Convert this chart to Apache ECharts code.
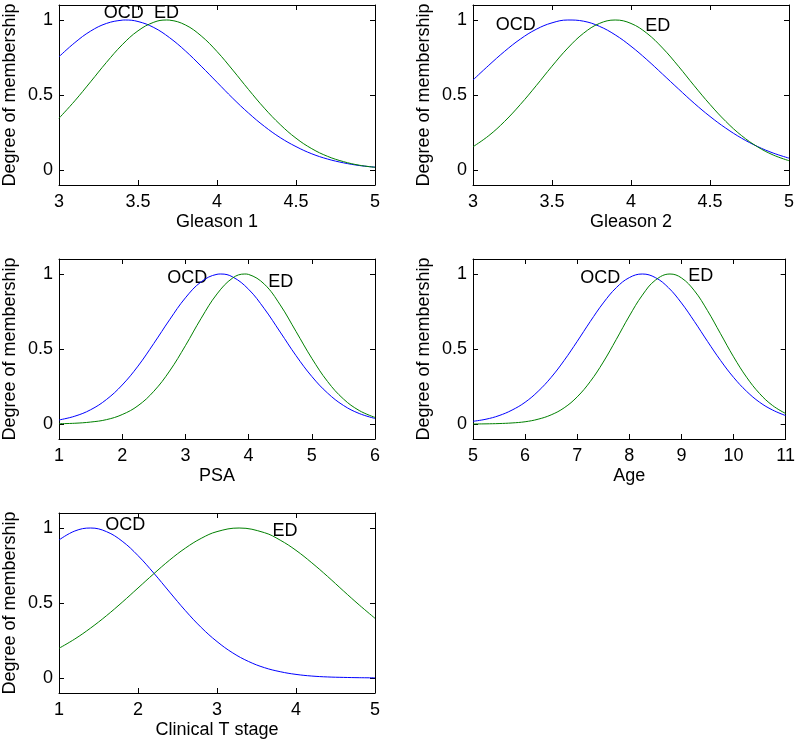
<!DOCTYPE html>
<html>
<head>
<meta charset="utf-8">
<title>Degree of membership</title>
<script src="https://cdn.jsdelivr.net/npm/echarts@6/dist/echarts.min.js"></script>
<style>
html, body { margin: 0; padding: 0; background: #fff; }
#main { width: 798px; height: 745px; }
</style>
</head>
<body>
<div id="main"></div>
<script>
// values, one pair of curves per panel
var gleason1X = [3.0, 3.1, 3.2, 3.3, 3.4, 3.42, 3.5, 3.6, 3.7, 3.8, 3.9, 4.0, 4.1, 4.2, 4.3, 4.4, 4.5, 4.6, 4.7, 4.8, 4.9, 5.0];
var gleason1Ocd = [0.755, 0.849, 0.926, 0.977, 0.999, 1.000, 0.990, 0.950, 0.882, 0.794, 0.692, 0.585, 0.478, 0.379, 0.291, 0.216, 0.156, 0.108, 0.073, 0.048, 0.030, 0.019];
var gleason1EdX = [3.0, 3.1, 3.2, 3.3, 3.4, 3.5, 3.6, 3.68, 3.7, 3.8, 3.9, 4.0, 4.1, 4.2, 4.3, 4.4, 4.5, 4.6, 4.7, 4.8, 4.9, 5.0];
var gleason1Ed = [0.345, 0.461, 0.588, 0.717, 0.835, 0.928, 0.985, 1.000, 0.999, 0.967, 0.894, 0.790, 0.666, 0.536, 0.412, 0.303, 0.212, 0.142, 0.091, 0.056, 0.032, 0.018];

var gleason2X = [3.0, 3.1, 3.2, 3.3, 3.4, 3.5, 3.6, 3.7, 3.8, 3.9, 4.0, 4.1, 4.2, 4.3, 4.4, 4.5, 4.6, 4.7, 4.8, 4.9, 5.0];
var gleason2Ocd = [0.600, 0.698, 0.791, 0.873, 0.938, 0.981, 1.000, 0.992, 0.958, 0.901, 0.825, 0.736, 0.639, 0.541, 0.445, 0.357, 0.279, 0.212, 0.157, 0.113, 0.079];
var gleason2Ed = [0.155, 0.229, 0.324, 0.437, 0.562, 0.692, 0.813, 0.912, 0.977, 1.000, 0.977, 0.912, 0.813, 0.692, 0.562, 0.437, 0.324, 0.229, 0.155, 0.100, 0.062];

var psaOcdX = [1.0, 1.25, 1.5, 1.75, 2.0, 2.25, 2.5, 2.75, 3.0, 3.25, 3.5, 3.56, 3.75, 4.0, 4.25, 4.5, 4.75, 5.0, 5.25, 5.5, 5.75, 6.0];
var psaOcd = [0.027, 0.052, 0.095, 0.163, 0.260, 0.386, 0.537, 0.695, 0.841, 0.948, 0.998, 1.000, 0.980, 0.898, 0.768, 0.613, 0.456, 0.317, 0.206, 0.124, 0.070, 0.037];
var psaEdX = [1.0, 1.25, 1.5, 1.75, 2.0, 2.25, 2.5, 2.75, 3.0, 3.25, 3.5, 3.75, 3.94, 4.0, 4.25, 4.5, 4.75, 5.0, 5.25, 5.5, 5.75, 6.0];
var psaEd = [0.002, 0.005, 0.013, 0.029, 0.063, 0.122, 0.218, 0.353, 0.522, 0.705, 0.867, 0.974, 1.000, 0.997, 0.932, 0.794, 0.617, 0.438, 0.283, 0.167, 0.090, 0.044];

var ageOcdX = [5.0, 5.25, 5.5, 5.75, 6.0, 6.25, 6.5, 6.75, 7.0, 7.25, 7.5, 7.75, 8.0, 8.25, 8.5, 8.75, 9.0, 9.25, 9.5, 9.75, 10.0, 10.25, 10.5, 10.75, 11.0];
var ageOcd = [0.018, 0.032, 0.056, 0.093, 0.145, 0.218, 0.311, 0.424, 0.551, 0.683, 0.807, 0.909, 0.976, 1.000, 0.976, 0.909, 0.807, 0.683, 0.551, 0.424, 0.311, 0.218, 0.145, 0.093, 0.056];
var ageEdX = [5.0, 5.25, 5.5, 5.75, 6.0, 6.25, 6.5, 6.75, 7.0, 7.25, 7.5, 7.75, 8.0, 8.25, 8.5, 8.78, 9.0, 9.25, 9.5, 9.75, 10.0, 10.25, 10.5, 10.75, 11.0];
var ageEd = [0.000, 0.001, 0.003, 0.007, 0.015, 0.032, 0.061, 0.108, 0.181, 0.283, 0.413, 0.564, 0.720, 0.859, 0.959, 1.000, 0.974, 0.888, 0.756, 0.602, 0.448, 0.312, 0.203, 0.123, 0.070];

var stageOcdX = [1.0, 1.2, 1.4, 1.6, 1.8, 2.0, 2.2, 2.4, 2.6, 2.8, 3.0, 3.2, 3.4, 3.6, 3.8, 4.0, 4.2, 4.4, 4.6, 4.8, 5.0];
var stageOcd = [0.920, 0.980, 1.000, 0.976, 0.912, 0.816, 0.699, 0.573, 0.449, 0.337, 0.243, 0.167, 0.110, 0.069, 0.042, 0.024, 0.013, 0.007, 0.004, 0.002, 0.001];
var stageEdX = [1.0, 1.2, 1.4, 1.6, 1.8, 2.0, 2.2, 2.4, 2.6, 2.8, 3.0, 3.28, 3.6, 3.8, 4.0, 4.2, 4.4, 4.6, 4.8, 5.0];
var stageEd = [0.198, 0.260, 0.333, 0.415, 0.505, 0.600, 0.695, 0.786, 0.866, 0.931, 0.976, 1.000, 0.969, 0.919, 0.851, 0.768, 0.677, 0.581, 0.487, 0.398];

var axisNames = ['Gleason 1', 'Gleason 2', 'PSA', 'Age', 'Clinical T stage'];
var xMins = [3, 3, 1, 5, 1];
var xMaxs = [5, 5, 6, 11, 5];
var xSteps = [0.5, 0.5, 1, 1, 1];
var yTicks = [0, 0.5, 1];

// where the OCD / ED text sits in each panel (data units)
var ocdLabels = [[3.41, 1.047], [3.27, 0.967], [3.03, 0.973], [7.44, 0.973], [1.84, 1.02]];
var edLabels = [[3.68, 1.047], [4.17, 0.96], [4.51, 0.947], [9.37, 0.984], [3.86, 0.982]];

var ocdX = [gleason1X, gleason2X, psaOcdX, ageOcdX, stageOcdX];
var ocdY = [gleason1Ocd, gleason2Ocd, psaOcd, ageOcd, stageOcd];
var edX = [gleason1EdX, gleason2X, psaEdX, ageEdX, stageEdX];
var edY = [gleason1Ed, gleason2Ed, psaEd, ageEd, stageEd];

var font = 'Liberation Sans';
var boxes = [
  {left: 59, top: 5}, {left: 473, top: 5},
  {left: 59, top: 259}, {left: 473, top: 259},
  {left: 59, top: 513}
];

function zip(xs, ys) {
  return xs.map(function (x, i) { return [x, ys[i]]; });
}

var grids = [], xAxes = [], yAxes = [], series = [];

boxes.forEach(function (b, i) {
  grids.push({left: b.left, top: b.top, width: 316, height: 180, show: false});

  var tickStyle = {inside: true, length: 5, lineStyle: {color: '#000', width: 1}};
  var lineStyle = {show: true, onZero: false, lineStyle: {color: '#000', width: 1}};

  xAxes.push({
    type: 'value', gridIndex: i, position: 'bottom',
    min: xMins[i], max: xMaxs[i], interval: xSteps[i],
    axisLine: lineStyle, axisTick: tickStyle,
    axisLabel: {color: '#000', fontSize: 18, fontFamily: font, margin: 8},
    splitLine: {show: false},
    name: axisNames[i], nameLocation: 'middle', nameGap: 28,
    nameTextStyle: {color: '#000', fontSize: 18, fontFamily: font}
  });
  xAxes.push({
    type: 'value', gridIndex: i, position: 'top',
    min: xMins[i], max: xMaxs[i], interval: xSteps[i],
    axisLine: lineStyle, axisTick: tickStyle,
    axisLabel: {show: false}, splitLine: {show: false}
  });

  yAxes.push({
    type: 'value', gridIndex: i, position: 'left',
    min: -0.1, max: 1.1,
    axisLine: lineStyle,
    axisTick: {inside: true, length: 5, customValues: yTicks, lineStyle: {color: '#000', width: 1}},
    axisLabel: {color: '#000', fontSize: 18, fontFamily: font, margin: 6, customValues: yTicks},
    splitLine: {show: false},
    name: 'Degree of membership', nameLocation: 'middle', nameGap: 40, nameRotate: 90,
    nameTextStyle: {color: '#000', fontSize: 18, fontFamily: font}
  });
  yAxes.push({
    type: 'value', gridIndex: i, position: 'right',
    min: -0.1, max: 1.1,
    axisLine: lineStyle,
    axisTick: {inside: true, length: 5, customValues: yTicks, lineStyle: {color: '#000', width: 1}},
    axisLabel: {show: false}, splitLine: {show: false}
  });

  series.push({
    type: 'line', xAxisIndex: i * 2, yAxisIndex: i * 2,
    data: zip(ocdX[i], ocdY[i]),
    smooth: 0.4, symbol: 'none',
    lineStyle: {color: '#0000ff', width: 1}
  });
  series.push({
    type: 'line', xAxisIndex: i * 2, yAxisIndex: i * 2,
    data: zip(edX[i], edY[i]),
    smooth: 0.4, symbol: 'none',
    lineStyle: {color: '#008000', width: 1}
  });
  series.push({
    type: 'scatter', xAxisIndex: i * 2, yAxisIndex: i * 2,
    symbolSize: 0, silent: true,
    itemStyle: {opacity: 1},
    data: [
      {name: 'OCD', value: ocdLabels[i]},
      {name: 'ED', value: edLabels[i]}
    ],
    label: {
      show: true, position: [0, 0], align: 'center', verticalAlign: 'middle',
      formatter: '{b}', color: '#000', fontSize: 18, fontFamily: font
    }
  });
});

var myChart = echarts.init(document.getElementById('main'));
myChart.setOption({
  animation: false,
  backgroundColor: '#fff',
  grid: grids,
  xAxis: xAxes,
  yAxis: yAxes,
  series: series
});
</script>
</body>
</html>
